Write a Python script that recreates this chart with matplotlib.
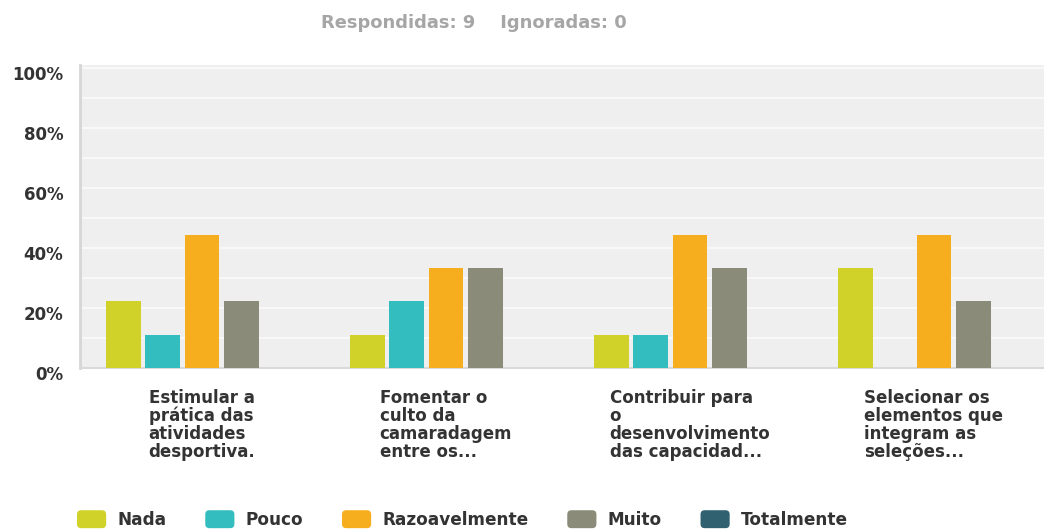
import matplotlib
matplotlib.use("Agg")
import matplotlib.pyplot as plt
import matplotlib.transforms as mtransforms
import numpy as np
from matplotlib.patches import FancyBboxPatch, Patch
from matplotlib.legend_handler import HandlerPatch

# Respostas (9 respondentes) em percentagem
categories = [
    "Estimular a\nprática das\natividades\ndesportiva.",
    "Fomentar o\nculto da\ncamaradagem\nentre os...",
    "Contribuir para\no\ndesenvolvimento\ndas capacidad...",
    "Selecionar os\nelementos que\nintegram as\nseleções...",
]
series_names = ["Nada", "Pouco", "Razoavelmente", "Muito", "Totalmente"]
nada = [22.22, 11.11, 11.11, 33.33]
pouco = [11.11, 22.22, 11.11, 0.0]
razoavelmente = [44.44, 33.33, 44.44, 44.44]
muito = [22.22, 33.33, 33.33, 22.22]
totalmente = [0.0, 0.0, 0.0, 0.0]
colors = ["#d0d22a", "#33bdbf", "#f7ae1e", "#8a8b79", "#2f6170"]
yticks = [0, 20, 40, 60, 80, 100]
ytick_labels = ["0%", "20%", "40%", "60%", "80%", "100%"]
header = "Respondidas: 9    Ignoradas: 0"

plt.rcParams["font.family"] = ["DejaVu Sans"]
plt.rcParams["font.weight"] = "bold"

W, H = 1044, 529
fig = plt.figure(figsize=(W / 100, H / 100), dpi=100)
fig.patch.set_facecolor("white")
ax = fig.add_axes([80 / W, 161 / H, 976 / W, 303 / H])
ax.set_facecolor("#efefef")

series = [nada, pouco, razoavelmente, muito, totalmente]
x = np.arange(len(categories))
step = 0.16
width = 0.1434
for k, (name, vals) in enumerate(zip(series_names, series)):
    ax.bar(x + (k - 2) * step, vals, width=width, color=colors[k], label=name, zorder=3)

ax.set_xlim(-0.5, 3.5)
ax.set_ylim(0, 101)
for g in range(10, 101, 10):
    ax.axhline(g, color="#f9f9f9", lw=1.3, zorder=1)

for s in ["top", "right"]:
    ax.spines[s].set_visible(False)
ax.spines["left"].set_color("#d6d6d6")
ax.spines["left"].set_linewidth(2)
ax.spines["bottom"].set_color("#d9d9d9")
ax.spines["bottom"].set_linewidth(1.5)

ax.set_yticks(yticks)
ax.set_yticklabels(ytick_labels, fontsize=12, color="#333333")
ax.tick_params(axis="y", length=0, pad=12)
shift = mtransforms.ScaledTranslation(0, -5 / 100, fig.dpi_scale_trans)
for lab in ax.get_yticklabels():
    lab.set_transform(lab.get_transform() + shift)

ax.set_xticks(x)
ax.set_xticklabels(categories, fontsize=12, color="#333333", linespacing=1.0)
for lab in ax.get_xticklabels():
    lab.set_multialignment("left")
ax.tick_params(axis="x", length=0, pad=15)

fig.text(474 / W, 1 - 23 / H, header, ha="center", va="center",
         fontsize=12.9, color="#a6a6a6")


class RoundHandler(HandlerPatch):
    def create_artists(self, legend, orig_handle, xdescent, ydescent,
                       width, height, fontsize, trans):
        p = FancyBboxPatch((-xdescent + 2, -ydescent + 1), width - 4, height - 2,
                           boxstyle="round,pad=2,rounding_size=3",
                           facecolor=orig_handle.get_facecolor(),
                           edgecolor="none", transform=trans)
        return [p]


handles = [Patch(facecolor=c, label=n) for c, n in zip(colors, series_names)]
fig.legend(handles=handles, loc="center left",
           bbox_to_anchor=(77 / W, 1 - 520 / H), ncol=5, frameon=False,
           fontsize=12.2, handlelength=1.72, handleheight=1.0,
           handletextpad=0.65, columnspacing=2.3, borderpad=0,
           borderaxespad=0, labelcolor="#333333",
           handler_map={Patch: RoundHandler()})

plt.savefig("out.png", dpi=100)
